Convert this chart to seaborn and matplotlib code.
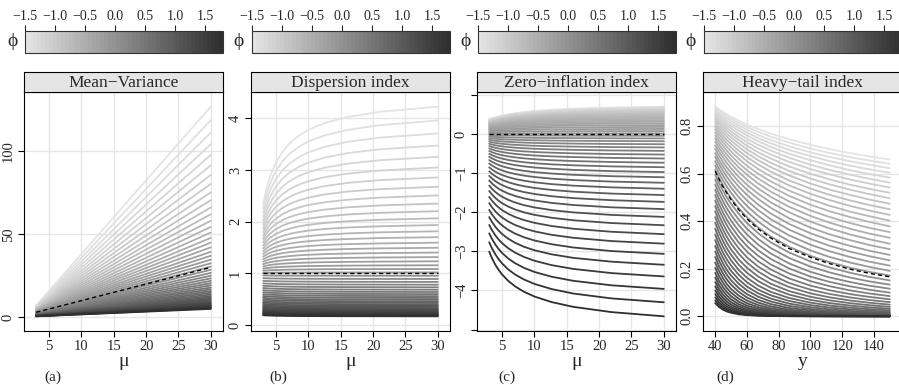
import numpy as np
import pandas as pd
import matplotlib
matplotlib.use("Agg")
import matplotlib.pyplot as plt
import seaborn as sns
from matplotlib.colors import LinearSegmentedColormap, Normalize
from matplotlib.cm import ScalarMappable

# ---------------- data ----------------
phi = [-1.5, -1.433, -1.365, -1.298, -1.231, -1.163, -1.096, -1.029, -0.961, -0.894,
       -0.827, -0.759, -0.692, -0.624, -0.557, -0.490, -0.422, -0.355, -0.288, -0.220,
       -0.153, -0.086, -0.018, 0.049, 0.116, 0.184, 0.251, 0.318, 0.386, 0.453,
       0.520, 0.588, 0.655, 0.722, 0.790, 0.857, 0.924, 0.992, 1.059, 1.127,
       1.194, 1.261, 1.329, 1.396, 1.463, 1.531, 1.598, 1.665, 1.733, 1.8]

# (a) Mean-Variance: variance at mu = 3 and mu = 30
mu_a = [3, 30]
var_a = [
    [7.05, 126.8], [6.79, 118.7], [6.53, 111.2], [6.29, 104.2], [6.05, 97.7],
    [5.82, 91.5], [5.60, 85.7], [5.39, 80.3], [5.19, 75.2], [5.00, 70.5],
    [4.81, 66.1], [4.62, 62.0], [4.45, 58.1], [4.28, 54.4], [4.12, 51.0],
    [3.97, 47.8], [3.82, 44.9], [3.67, 42.1], [3.53, 39.4], [3.40, 37.0],
    [3.27, 34.7], [3.15, 32.5], [3.03, 30.5], [2.88, 28.6], [2.72, 26.7],
    [2.57, 25.0], [2.42, 23.4], [2.28, 21.9], [2.15, 20.5], [2.02, 19.2],
    [1.90, 17.9], [1.79, 16.8], [1.68, 15.7], [1.58, 14.7], [1.49, 13.7],
    [1.40, 12.8], [1.31, 12.0], [1.23, 11.2], [1.15, 10.5], [1.08, 9.81],
    [1.01, 9.18], [0.95, 8.58], [0.89, 8.04], [0.83, 7.50], [0.78, 7.02],
    [0.73, 6.57], [0.69, 6.15], [0.64, 5.73], [0.60, 5.37], [0.56, 5.04]]
ref_a_x = [3, 30]
ref_a = [3, 30]

# (b) Dispersion index: curves 0-22 (phi < 0) and 23-49 (phi > 0)
mu_b_light = [3, 3.25, 3.5, 3.75, 4, 4.5, 5, 6, 7, 8.5, 10, 12.5, 16, 21, 30]
di_b_light = [
    [2.351, 2.502, 2.633, 2.746, 2.846, 3.015, 3.150, 3.356, 3.505, 3.665, 3.778, 3.909, 4.025, 4.126, 4.226],
    [2.263, 2.400, 2.518, 2.620, 2.711, 2.863, 2.985, 3.171, 3.306, 3.450, 3.553, 3.671, 3.776, 3.868, 3.958],
    [2.177, 2.301, 2.407, 2.500, 2.582, 2.719, 2.830, 2.997, 3.119, 3.250, 3.342, 3.449, 3.544, 3.627, 3.708],
    [2.096, 2.207, 2.303, 2.387, 2.460, 2.584, 2.683, 2.834, 2.944, 3.061, 3.145, 3.241, 3.326, 3.401, 3.474],
    [2.017, 2.117, 2.203, 2.278, 2.344, 2.455, 2.545, 2.680, 2.779, 2.884, 2.959, 3.046, 3.122, 3.189, 3.255],
    [1.940, 2.029, 2.107, 2.174, 2.233, 2.332, 2.413, 2.534, 2.622, 2.717, 2.784, 2.861, 2.930, 2.990, 3.049],
    [1.868, 1.948, 2.016, 2.076, 2.129, 2.218, 2.289, 2.397, 2.476, 2.560, 2.620, 2.689, 2.750, 2.804, 2.856],
    [1.798, 1.869, 1.930, 1.983, 2.030, 2.109, 2.172, 2.269, 2.338, 2.413, 2.466, 2.528, 2.582, 2.629, 2.676],
    [1.729, 1.792, 1.846, 1.893, 1.935, 2.005, 2.061, 2.146, 2.208, 2.275, 2.322, 2.376, 2.424, 2.466, 2.508],
    [1.665, 1.720, 1.768, 1.810, 1.846, 1.908, 1.957, 2.032, 2.087, 2.145, 2.187, 2.234, 2.277, 2.314, 2.350],
    [1.602, 1.650, 1.692, 1.729, 1.761, 1.815, 1.858, 1.924, 1.972, 2.023, 2.059, 2.101, 2.139, 2.171, 2.203],
    [1.541, 1.583, 1.620, 1.651, 1.679, 1.726, 1.764, 1.822, 1.863, 1.908, 1.939, 1.976, 2.008, 2.037, 2.065],
    [1.484, 1.520, 1.552, 1.579, 1.603, 1.644, 1.676, 1.726, 1.762, 1.800, 1.828, 1.859, 1.887, 1.911, 1.935],
    [1.427, 1.458, 1.485, 1.509, 1.529, 1.564, 1.592, 1.634, 1.665, 1.698, 1.722, 1.749, 1.773, 1.794, 1.814],
    [1.374, 1.400, 1.423, 1.443, 1.460, 1.490, 1.513, 1.549, 1.575, 1.603, 1.622, 1.645, 1.665, 1.683, 1.700],
    [1.322, 1.344, 1.363, 1.379, 1.394, 1.418, 1.438, 1.468, 1.489, 1.512, 1.529, 1.548, 1.565, 1.579, 1.594],
    [1.272, 1.290, 1.305, 1.319, 1.331, 1.351, 1.367, 1.391, 1.409, 1.428, 1.441, 1.457, 1.471, 1.483, 1.495],
    [1.224, 1.238, 1.251, 1.261, 1.271, 1.287, 1.300, 1.319, 1.333, 1.349, 1.359, 1.372, 1.383, 1.392, 1.402],
    [1.178, 1.189, 1.198, 1.207, 1.214, 1.226, 1.236, 1.251, 1.262, 1.274, 1.282, 1.291, 1.300, 1.307, 1.314],
    [1.134, 1.142, 1.149, 1.155, 1.160, 1.169, 1.176, 1.187, 1.195, 1.203, 1.209, 1.216, 1.222, 1.227, 1.233],
    [1.091, 1.096, 1.101, 1.105, 1.108, 1.114, 1.119, 1.126, 1.131, 1.137, 1.141, 1.145, 1.149, 1.153, 1.156],
    [1.050, 1.053, 1.055, 1.057, 1.059, 1.062, 1.065, 1.068, 1.071, 1.074, 1.076, 1.079, 1.081, 1.082, 1.084],
    [1.010, 1.011, 1.011, 1.011, 1.012, 1.012, 1.013, 1.014, 1.014, 1.015, 1.015, 1.016, 1.016, 1.017, 1.017]]
mu_b_dark = [3, 3.5, 4, 5, 7, 10, 16, 30]
di_b_dark = [
    [0.959, 0.958, 0.958, 0.956, 0.955, 0.954, 0.953, 0.953],
    [0.906, 0.904, 0.902, 0.900, 0.897, 0.895, 0.893, 0.891],
    [0.855, 0.852, 0.849, 0.846, 0.842, 0.839, 0.836, 0.834],
    [0.806, 0.802, 0.799, 0.795, 0.790, 0.786, 0.783, 0.780],
    [0.760, 0.755, 0.752, 0.747, 0.741, 0.737, 0.733, 0.730],
    [0.716, 0.711, 0.707, 0.701, 0.695, 0.690, 0.686, 0.683],
    [0.674, 0.668, 0.664, 0.658, 0.652, 0.647, 0.642, 0.639],
    [0.634, 0.628, 0.624, 0.618, 0.611, 0.606, 0.601, 0.598],
    [0.596, 0.590, 0.586, 0.580, 0.573, 0.568, 0.563, 0.559],
    [0.561, 0.555, 0.550, 0.544, 0.537, 0.532, 0.527, 0.523],
    [0.527, 0.521, 0.516, 0.510, 0.503, 0.498, 0.493, 0.489],
    [0.495, 0.489, 0.485, 0.478, 0.471, 0.466, 0.461, 0.458],
    [0.465, 0.459, 0.455, 0.448, 0.441, 0.436, 0.432, 0.428],
    [0.436, 0.431, 0.426, 0.420, 0.413, 0.408, 0.404, 0.400],
    [0.409, 0.404, 0.400, 0.394, 0.387, 0.382, 0.378, 0.374],
    [0.384, 0.379, 0.375, 0.369, 0.363, 0.358, 0.353, 0.350],
    [0.360, 0.355, 0.351, 0.346, 0.339, 0.335, 0.331, 0.327],
    [0.338, 0.333, 0.329, 0.324, 0.318, 0.313, 0.309, 0.306],
    [0.317, 0.312, 0.308, 0.303, 0.298, 0.293, 0.289, 0.286],
    [0.297, 0.292, 0.289, 0.284, 0.279, 0.274, 0.271, 0.268],
    [0.278, 0.274, 0.271, 0.266, 0.261, 0.257, 0.253, 0.250],
    [0.261, 0.257, 0.253, 0.249, 0.244, 0.240, 0.237, 0.234],
    [0.244, 0.240, 0.237, 0.233, 0.228, 0.225, 0.222, 0.219],
    [0.229, 0.225, 0.222, 0.218, 0.214, 0.210, 0.207, 0.205],
    [0.214, 0.211, 0.208, 0.204, 0.200, 0.197, 0.194, 0.191],
    [0.201, 0.197, 0.195, 0.191, 0.187, 0.184, 0.181, 0.179],
    [0.188, 0.185, 0.183, 0.179, 0.175, 0.172, 0.170, 0.168]]
ref_b_x = [3, 30]
ref_b = [1, 1]

# (c) Zero-inflation index
mu_c = [3, 3.464, 4, 4.472, 5, 5.916, 7, 8.367, 10, 12.65, 16, 21.91, 30]
zi_c = [
    [0.389, 0.408, 0.429, 0.450, 0.470, 0.502, 0.531, 0.561, 0.587, 0.619, 0.645, 0.675, 0.698],
    [0.373, 0.395, 0.419, 0.440, 0.461, 0.493, 0.521, 0.551, 0.577, 0.607, 0.633, 0.662, 0.684],
    [0.360, 0.384, 0.409, 0.431, 0.452, 0.483, 0.512, 0.540, 0.565, 0.595, 0.620, 0.648, 0.670],
    [0.347, 0.373, 0.399, 0.421, 0.442, 0.473, 0.501, 0.528, 0.553, 0.582, 0.606, 0.633, 0.655],
    [0.335, 0.363, 0.389, 0.411, 0.431, 0.461, 0.489, 0.516, 0.540, 0.568, 0.591, 0.618, 0.638],
    [0.324, 0.352, 0.379, 0.400, 0.420, 0.449, 0.476, 0.502, 0.525, 0.552, 0.575, 0.600, 0.620],
    [0.313, 0.341, 0.367, 0.388, 0.408, 0.437, 0.462, 0.488, 0.510, 0.536, 0.558, 0.582, 0.601],
    [0.302, 0.329, 0.356, 0.376, 0.395, 0.423, 0.448, 0.472, 0.493, 0.518, 0.539, 0.562, 0.580],
    [0.290, 0.317, 0.343, 0.363, 0.381, 0.408, 0.432, 0.455, 0.475, 0.499, 0.519, 0.541, 0.558],
    [0.278, 0.305, 0.330, 0.348, 0.366, 0.391, 0.414, 0.436, 0.456, 0.478, 0.497, 0.518, 0.535],
    [0.266, 0.291, 0.315, 0.333, 0.350, 0.374, 0.395, 0.416, 0.435, 0.456, 0.474, 0.494, 0.509],
    [0.252, 0.276, 0.299, 0.316, 0.332, 0.355, 0.375, 0.395, 0.412, 0.432, 0.449, 0.467, 0.482],
    [0.238, 0.261, 0.282, 0.298, 0.313, 0.334, 0.353, 0.371, 0.388, 0.406, 0.422, 0.439, 0.453],
    [0.223, 0.244, 0.264, 0.279, 0.293, 0.312, 0.330, 0.346, 0.361, 0.378, 0.393, 0.409, 0.421],
    [0.206, 0.226, 0.244, 0.257, 0.270, 0.288, 0.304, 0.319, 0.333, 0.349, 0.362, 0.376, 0.388],
    [0.188, 0.205, 0.222, 0.234, 0.246, 0.262, 0.276, 0.290, 0.302, 0.316, 0.328, 0.341, 0.352],
    [0.168, 0.184, 0.199, 0.210, 0.220, 0.234, 0.247, 0.259, 0.270, 0.282, 0.292, 0.304, 0.313],
    [0.147, 0.161, 0.173, 0.183, 0.191, 0.204, 0.215, 0.225, 0.234, 0.245, 0.254, 0.264, 0.272],
    [0.124, 0.135, 0.146, 0.153, 0.161, 0.171, 0.180, 0.189, 0.196, 0.205, 0.213, 0.221, 0.227],
    [0.099, 0.108, 0.116, 0.122, 0.128, 0.136, 0.143, 0.150, 0.156, 0.163, 0.168, 0.175, 0.180],
    [0.071, 0.077, 0.083, 0.088, 0.092, 0.098, 0.103, 0.107, 0.112, 0.117, 0.121, 0.125, 0.129],
    [0.041, 0.045, 0.048, 0.051, 0.053, 0.056, 0.059, 0.062, 0.065, 0.067, 0.070, 0.072, 0.075],
    [0.009, 0.010, 0.011, 0.011, 0.012, 0.012, 0.013, 0.014, 0.014, 0.015, 0.015, 0.016, 0.016],
    [-0.026, -0.028, -0.031, -0.032, -0.033, -0.035, -0.037, -0.039, -0.040, -0.042, -0.044, -0.045, -0.046],
    [-0.064, -0.070, -0.075, -0.079, -0.082, -0.087, -0.091, -0.095, -0.099, -0.103, -0.106, -0.110, -0.113],
    [-0.105, -0.114, -0.123, -0.129, -0.134, -0.142, -0.149, -0.155, -0.161, -0.168, -0.174, -0.180, -0.185],
    [-0.150, -0.163, -0.174, -0.183, -0.190, -0.201, -0.211, -0.220, -0.229, -0.238, -0.246, -0.255, -0.262],
    [-0.199, -0.215, -0.230, -0.241, -0.251, -0.265, -0.278, -0.290, -0.301, -0.313, -0.323, -0.335, -0.344],
    [-0.251, -0.271, -0.290, -0.304, -0.316, -0.334, -0.350, -0.365, -0.378, -0.393, -0.406, -0.421, -0.432],
    [-0.308, -0.332, -0.355, -0.371, -0.386, -0.408, -0.427, -0.445, -0.461, -0.479, -0.495, -0.513, -0.526],
    [-0.369, -0.398, -0.425, -0.444, -0.462, -0.487, -0.509, -0.531, -0.550, -0.572, -0.590, -0.611, -0.627],
    [-0.435, -0.469, -0.500, -0.522, -0.543, -0.572, -0.598, -0.623, -0.645, -0.671, -0.692, -0.716, -0.735],
    [-0.507, -0.545, -0.581, -0.606, -0.630, -0.664, -0.694, -0.722, -0.748, -0.777, -0.801, -0.829, -0.850],
    [-0.584, -0.627, -0.668, -0.697, -0.724, -0.762, -0.796, -0.828, -0.857, -0.890, -0.918, -0.950, -0.974],
    [-0.667, -0.716, -0.761, -0.794, -0.825, -0.867, -0.906, -0.942, -0.975, -1.012, -1.044, -1.079, -1.106],
    [-0.756, -0.811, -0.862, -0.898, -0.933, -0.980, -1.023, -1.064, -1.100, -1.142, -1.178, -1.217, -1.248],
    [-0.853, -0.914, -0.970, -1.011, -1.049, -1.102, -1.150, -1.195, -1.235, -1.282, -1.321, -1.365, -1.400],
    [-0.957, -1.024, -1.086, -1.131, -1.173, -1.232, -1.285, -1.335, -1.380, -1.431, -1.475, -1.524, -1.562],
    [-1.069, -1.143, -1.211, -1.261, -1.307, -1.372, -1.430, -1.485, -1.535, -1.591, -1.640, -1.693, -1.736],
    [-1.189, -1.270, -1.345, -1.400, -1.451, -1.521, -1.585, -1.646, -1.700, -1.762, -1.816, -1.875, -1.921],
    [-1.319, -1.407, -1.490, -1.549, -1.605, -1.682, -1.752, -1.819, -1.878, -1.946, -2.005, -2.069, -2.120],
    [-1.458, -1.554, -1.644, -1.709, -1.770, -1.854, -1.931, -2.003, -2.068, -2.142, -2.206, -2.277, -2.333],
    [-1.607, -1.712, -1.810, -1.881, -1.947, -2.039, -2.122, -2.201, -2.272, -2.353, -2.423, -2.500, -2.561],
    [-1.768, -1.882, -1.988, -2.065, -2.137, -2.236, -2.327, -2.413, -2.490, -2.578, -2.654, -2.738, -2.804],
    [-1.941, -2.064, -2.179, -2.262, -2.340, -2.448, -2.547, -2.640, -2.723, -2.819, -2.902, -2.993, -3.065],
    [-2.126, -2.260, -2.384, -2.474, -2.558, -2.675, -2.782, -2.883, -2.973, -3.077, -3.167, -3.265, -3.344],
    [-2.326, -2.469, -2.604, -2.701, -2.792, -2.919, -3.034, -3.143, -3.241, -3.353, -3.450, -3.557, -3.642],
    [-2.540, -2.695, -2.840, -2.944, -3.043, -3.180, -3.304, -3.422, -3.528, -3.649, -3.754, -3.869, -3.961],
    [-2.769, -2.936, -3.092, -3.205, -3.311, -3.459, -3.593, -3.720, -3.834, -3.965, -4.079, -4.204, -4.303],
    [-3.010, -3.190, -3.358, -3.479, -3.593, -3.752, -3.896, -4.033, -4.156, -4.298, -4.420, -4.554, -4.662]]
ref_c_x = [3, 30]
ref_c = [0, 0]

# (d) Heavy-tail index
y_d = [40, 42.4, 45, 47.4, 50, 54.8, 60, 67.1, 75, 86.6, 100, 111.8, 125, 136.9, 150]
ht_d = [
    [.881, .870, .859, .849, .839, .822, .806, .787, .768, .744, .721, .703, .686, .672, .659],
    [.875, .863, .851, .840, .830, .813, .796, .775, .755, .730, .705, .687, .669, .655, .641],
    [.868, .855, .843, .832, .821, .802, .784, .762, .741, .714, .689, .670, .652, .637, .622],
    [.861, .847, .834, .822, .811, .791, .772, .749, .727, .699, .673, .653, .633, .618, .603],
    [.853, .839, .825, .812, .800, .780, .760, .736, .712, .683, .656, .635, .614, .598, .583],
    [.845, .830, .815, .802, .789, .767, .746, .721, .697, .666, .637, .616, .595, .578, .562],
    [.836, .820, .805, .791, .777, .754, .732, .705, .680, .649, .619, .597, .575, .558, .541],
    [.827, .810, .794, .779, .765, .741, .717, .689, .663, .630, .599, .576, .553, .536, .519],
    [.817, .799, .782, .767, .752, .727, .702, .673, .645, .611, .579, .555, .532, .514, .496],
    [.807, .788, .770, .754, .738, .712, .686, .656, .627, .592, .558, .533, .510, .491, .473],
    [.796, .776, .757, .740, .724, .696, .669, .638, .608, .571, .537, .511, .487, .468, .450],
    [.785, .764, .744, .726, .709, .680, .652, .619, .588, .550, .515, .489, .464, .445, .426],
    [.773, .751, .730, .711, .693, .662, .633, .599, .567, .528, .492, .465, .440, .421, .402],
    [.760, .737, .715, .695, .676, .644, .614, .579, .546, .506, .469, .442, .417, .397, .378],
    [.747, .723, .699, .679, .659, .626, .595, .558, .524, .483, .445, .418, .392, .372, .354],
    [.733, .708, .683, .662, .641, .607, .574, .537, .502, .460, .422, .394, .368, .348, .330],
    [.718, .692, .666, .644, .622, .586, .553, .515, .479, .437, .398, .370, .344, .324, .305],
    [.703, .675, .648, .625, .603, .566, .532, .493, .456, .412, .373, .345, .320, .300, .282],
    [.686, .657, .630, .606, .583, .545, .510, .469, .432, .388, .349, .321, .296, .276, .258],
    [.670, .640, .611, .586, .562, .523, .487, .446, .408, .364, .325, .297, .272, .253, .235],
    [.652, .621, .591, .565, .541, .501, .464, .422, .384, .340, .301, .274, .249, .230, .213],
    [.634, .601, .570, .544, .519, .478, .440, .398, .360, .316, .277, .250, .226, .208, .191],
    [.615, .581, .549, .522, .496, .454, .416, .373, .335, .292, .254, .228, .204, .187, .171],
    [.595, .560, .527, .499, .473, .431, .392, .349, .311, .268, .231, .206, .183, .166, .151],
    [.575, .539, .505, .477, .450, .407, .368, .325, .287, .245, .209, .185, .163, .147, .133],
    [.554, .517, .482, .453, .426, .383, .344, .301, .264, .222, .187, .164, .144, .129, .116],
    [.532, .494, .459, .430, .402, .358, .319, .277, .241, .201, .167, .145, .126, .112, .0995],
    [.510, .471, .435, .405, .378, .334, .295, .254, .218, .180, .148, .127, .109, .0962, .0849],
    [.487, .448, .412, .382, .354, .310, .272, .231, .197, .159, .129, .110, .0934, .0818, .0716],
    [.464, .424, .387, .357, .329, .286, .248, .209, .176, .140, .112, .0942, .0793, .0687, .0596],
    [.441, .400, .363, .333, .305, .263, .226, .188, .156, .123, .0966, .0801, .0665, .0571, .0491],
    [.417, .376, .339, .309, .281, .239, .204, .167, .137, .106, .0822, .0674, .0552, .0469, .0398],
    [.393, .352, .315, .285, .258, .217, .183, .148, .120, .0911, .0691, .0558, .0451, .0379, .0318],
    [.368, .327, .291, .262, .235, .195, .162, .129, .103, .0769, .0574, .0457, .0364, .0302, .0251],
    [.344, .303, .267, .238, .213, .175, .143, .112, .0883, .0645, .0471, .0370, .0290, .0237, .0194],
    [.320, .279, .244, .216, .191, .155, .125, .0966, .0746, .0534, .0382, .0294, .0227, .0183, .0148],
    [.296, .256, .221, .194, .171, .137, .109, .0825, .0624, .0436, .0304, .0230, .0174, .0138, .0110],
    [.272, .233, .200, .174, .151, .119, .0932, .0693, .0515, .0351, .0239, .0178, .0132, .0103, .0081],
    [.249, .211, .179, .154, .133, .103, .0791, .0576, .0419, .0278, .0184, .0134, .0097, .0075, .0058],
    [.226, .190, .159, .135, .115, .0873, .0663, .0472, .0336, .0217, .0140, .0100, .0071, .0053, .0040],
    [.204, .169, .140, .118, .0994, .0739, .0550, .0382, .0266, .0166, .0104, .0072, .0050, .0037, .0028],
    [.183, .149, .122, .102, .0847, .0617, .0450, .0305, .0207, .0125, .0076, .0052, .0035, .0025, .0018],
    [.163, .131, .106, .0870, .0714, .0509, .0363, .0239, .0158, .0092, .0054, .0035, .0023, .0017, .0012],
    [.144, .114, .0903, .0733, .0595, .0414, .0288, .0185, .0119, .0067, .0038, .0024, .0015, .0010, .0007],
    [.126, .0982, .0765, .0612, .0490, .0333, .0226, .0140, .0087, .0048, .0026, .0016, .0010, .0006, .0004],
    [.109, .0835, .0640, .0504, .0397, .0263, .0174, .0105, .0063, .0033, .0017, .0010, .0006, .0004, .0003],
    [.0935, .0703, .0529, .0410, .0318, .0204, .0131, .0076, .0044, .0022, .0011, .0007, .0004, .0002, .0001],
    [.0794, .0586, .0432, .0329, .0250, .0156, .0097, .0054, .0030, .0014, .0007, .0004, .0002, .0001, .0001],
    [.0666, .0481, .0347, .0259, .0194, .0117, .0070, .0037, .0020, .0009, .0004, .0002, .0001, .0000, .0000],
    [.0555, .0392, .0277, .0202, .0148, .0086, .0050, .0025, .0013, .0005, .0002, .0001, .0001, .0000, .0000]]
ref_d_x = y_d
ref_d = [.610, .576, .543, .517, .490, .448, .410, .367, .329, .285, .248, .222, .198, .181, .166]

titles = ["Mean\u2212Variance", "Dispersion index", "Zero\u2212inflation index", "Heavy\u2212tail index"]
xlabels = ["\u03bc", "\u03bc", "\u03bc", "y"]
tags = ["(a)", "(b)", "(c)", "(d)"]
xticks = [[5, 10, 15, 20, 25, 30]] * 3 + [[40, 60, 80, 100, 120, 140]]
yticks = [[0, 50, 100], [0, 1, 2, 3, 4], [1, 0, -1, -2, -3, -4, -5],
          [0.0, 0.2, 0.4, 0.6, 0.8]]
ylabels = [["0", "50", "100"], ["0", "1", "2", "3", "4"],
           ["", "0", "\u22121", "\u22122", "\u22123", "\u22124", ""],
           ["0.0", "0.2", "0.4", "0.6", "0.8"]]
cbar_ticks = [-1.5, -1.0, -0.5, 0.0, 0.5, 1.0, 1.5]

# ---------------- figure ----------------
sns.set_theme(style="white")
plt.rcParams["font.family"] = ["Liberation Serif", "DejaVu Serif"]
plt.rcParams["axes.unicode_minus"] = True

W, H = 899, 385
fig = plt.figure(figsize=(W / 100, H / 100), dpi=100)
fig.patch.set_facecolor("white")


def rect(x0, y0, x1, y1):
    return [x0 / W, 1 - y1 / H, (x1 - x0) / W, (y1 - y0) / H]


cmap = LinearSegmentedColormap.from_list("phi_grey", ["#E4E4E4", "#2F2F2F"])
norm = Normalize(vmin=min(phi), vmax=max(phi))


def long_frame(blocks):
    recs = []
    for xs, rows, start in blocks:
        for j, row in enumerate(rows):
            i = start + j
            for xv, yv in zip(xs, row):
                recs.append((i, phi[i], xv, yv))
    return pd.DataFrame(recs, columns=["curve", "phi", "x", "y"])


panels = [
    ([(mu_a, var_a, 0)], ref_a_x, ref_a),
    ([(mu_b_light, di_b_light, 0), (mu_b_dark, di_b_dark, len(di_b_light))], ref_b_x, ref_b),
    ([(mu_c, zi_c, 0)], ref_c_x, ref_c),
    ([(y_d, ht_d, 0)], ref_d_x, ref_d),
]
lefts = [24, 251, 477, 703]
tag_x = [53, 278, 507, 725]
PW = 199

for k, (blocks, rx, ry) in enumerate(panels):
    L = lefts[k]
    ax = fig.add_axes(rect(L, 92, L + PW, 331))
    df = long_frame(blocks)
    ax.grid(True, color="#E6E6E6", lw=1.0, zorder=0)
    ax.set_axisbelow(True)
    sns.lineplot(data=df, x="x", y="y", hue="phi", units="curve", estimator=None,
                 palette=cmap, hue_norm=norm, legend=False, linewidth=1.3,
                 sort=False, ax=ax)
    sns.lineplot(x=rx, y=ry, color="black", linewidth=1.0, ax=ax,
                 linestyle=(0, (3.0, 2.2)), zorder=5)

    # lattice-like 7% padding around the data
    xmin, xmax = df["x"].min(), df["x"].max()
    ymin, ymax = min(df["y"].min(), min(ry)), max(df["y"].max(), max(ry))
    xr, yr = xmax - xmin, ymax - ymin
    ax.set_xlim(xmin - 0.07 * xr, xmax + 0.07 * xr)
    ax.set_ylim(ymin - 0.07 * yr, ymax + 0.07 * yr)

    ax.set_xticks(xticks[k])
    ax.set_xticklabels([str(t) for t in xticks[k]])
    ax.set_yticks(yticks[k])
    ax.set_yticklabels(ylabels[k])
    ax.tick_params(axis="both", direction="out", length=4, width=0.8,
                   color="black", labelsize=10.5, pad=2.5, bottom=True, left=True)
    plt.setp(ax.get_yticklabels(), rotation=90, va="center", ha="right")
    ax.set_xlabel(xlabels[k], fontsize=14, labelpad=0)
    ax.set_ylabel("")
    for sp in ax.spines.values():
        sp.set_visible(True)
        sp.set_color("black")
        sp.set_linewidth(0.8)

    # strip
    sax = fig.add_axes(rect(L, 72, L + PW, 92))
    sax.set_facecolor("#E5E5E5")
    sax.set_xticks([])
    sax.set_yticks([])
    for sp in sax.spines.values():
        sp.set_color("black")
        sp.set_linewidth(0.8)
    sax.text(0.5, 0.45, titles[k], ha="center", va="center", fontsize=12.5,
             transform=sax.transAxes)

    # colour key
    cax = fig.add_axes(rect(L + 1, 31, L + PW, 53))
    cb = fig.colorbar(ScalarMappable(norm=norm, cmap=cmap.resampled(len(phi))),
                      cax=cax, orientation="horizontal", ticklocation="top")
    cb.set_ticks(cbar_ticks)
    cb.set_ticklabels([f"{t:.1f}".replace("-", "\u2212") for t in cbar_ticks])
    cax.tick_params(direction="out", length=4, width=0.8, labelsize=10, pad=2)
    cb.outline.set_linewidth(0.8)
    cb.outline.set_edgecolor("#333333")
    fig.text((L - 12) / W, 1 - 42 / H, "\u03d5", fontsize=14, ha="center", va="center")

    # sub-figure tag
    fig.text(tag_x[k] / W, 1 - 377 / H, tags[k], fontsize=11, ha="center", va="center")

fig.savefig("out.png", dpi=100, facecolor="white")
